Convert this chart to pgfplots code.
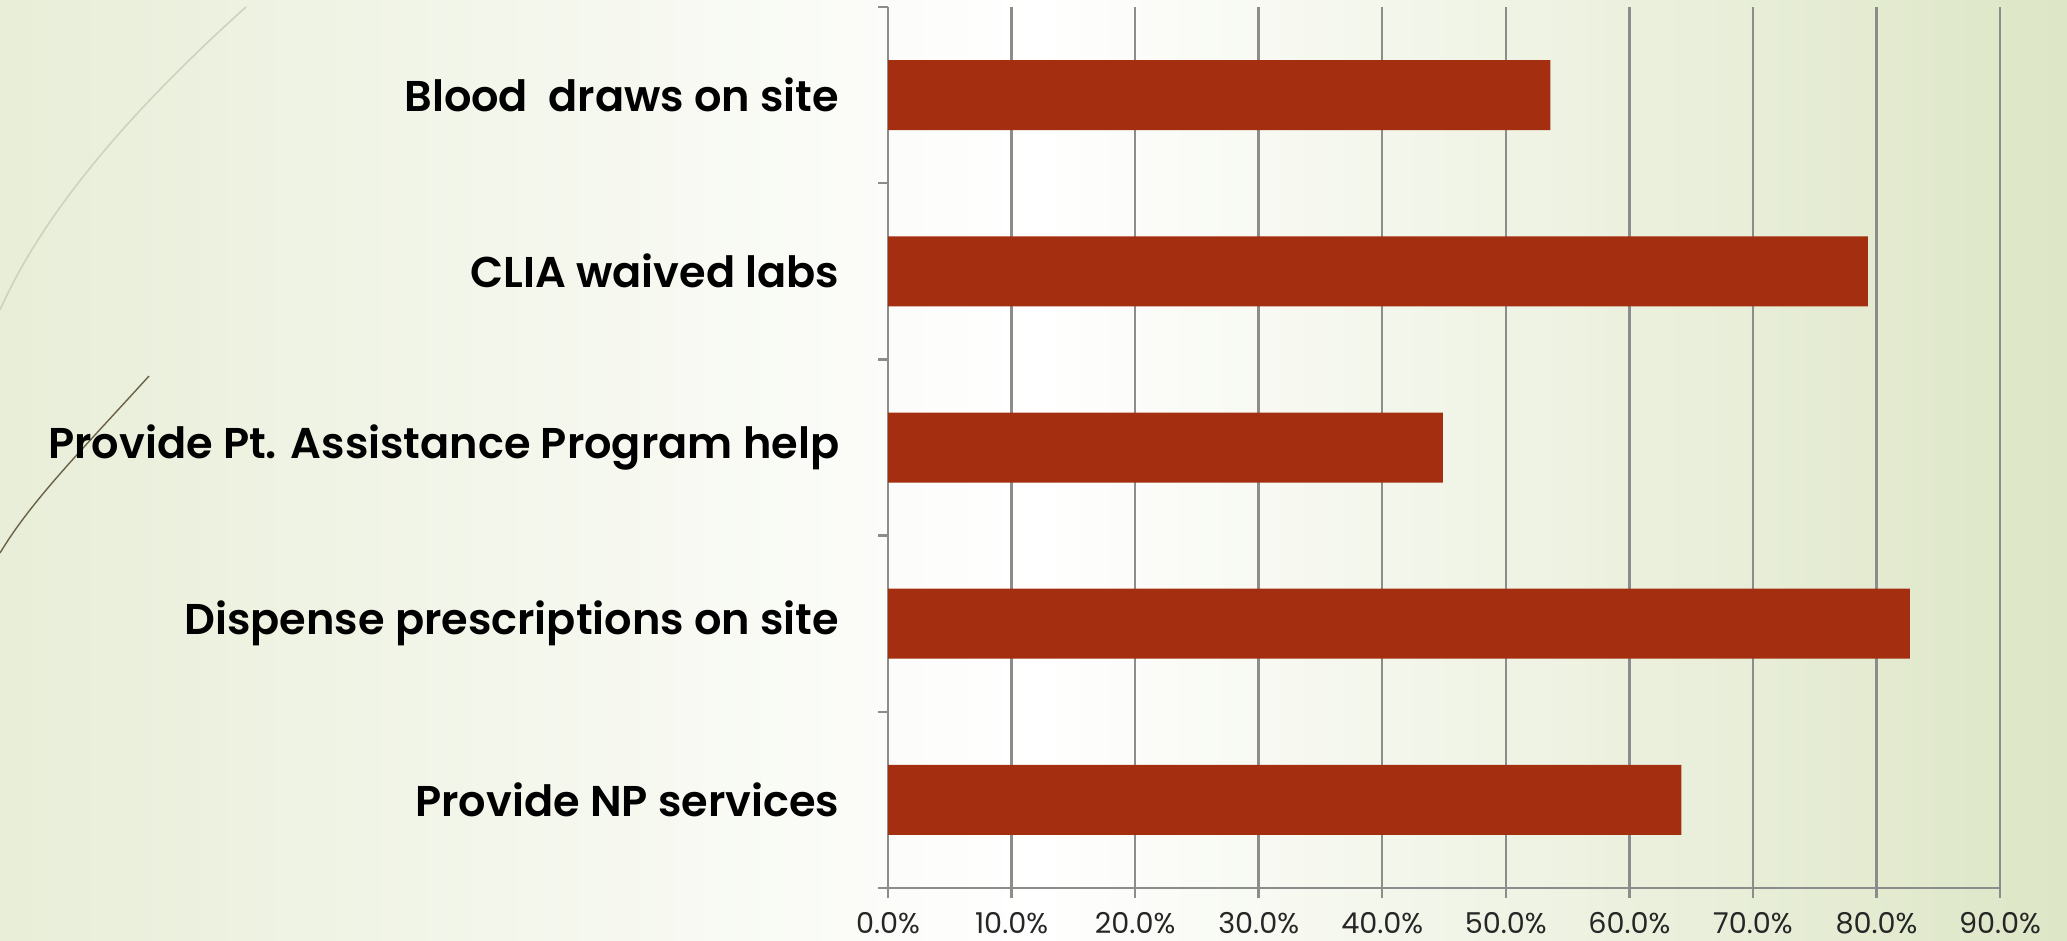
\documentclass[border=0pt]{standalone}
\usepackage{fontspec}
\setmainfont{Poppins}
\newfontfamily\catfont{Poppins SemiBold}
\newfontfamily\tickfont{Poppins}
\usepackage{pgfplots}
\pgfplotsset{compat=1.18}
\definecolor{barred}{HTML}{A42F10}
\definecolor{gridgray}{HTML}{8C8C8C}
\definecolor{bgleft}{HTML}{E8EED8}
\definecolor{bgright}{HTML}{DDE6C6}
\definecolor{arcA}{HTML}{CDD3BC}
\definecolor{arcB}{HTML}{6B6248}
\definecolor{ticktext}{HTML}{262626}
\begin{document}
\begin{tikzpicture}[x=1bp,y=1bp]
\useasboundingbox (0,0) rectangle (516.75,235);
\shade[left color=bgleft, right color=bgright, middle color=white] (0,0) rectangle (516.75,235);
\draw[color=arcA, line width=0.4bp] (61.5,233.25) .. controls (30,205) and (10,180) .. (0,157.5);
\draw[color=arcB, line width=0.35bp] (37.25,141) .. controls (20,122) and (8,110) .. (0,96.75);
\begin{axis}[
  at={(222bp,13bp)}, anchor=south west,
  scale only axis, width=278bp, height=220.25bp,
  xbar, bar width=17.5bp,
  xmin=0, xmax=90, ymin=-0.5, ymax=4.5,
  axis x line*=bottom, axis y line*=left,
  axis line style={gridgray, line width=0.6bp, -},
  xtick={0,10,...,90},
  xticklabels={0.0\%,10.0\%,20.0\%,30.0\%,40.0\%,50.0\%,60.0\%,70.0\%,80.0\%,90.0\%},
  ytick={0,1,2,3,4},
  yticklabels={Provide NP services, Dispense prescriptions on site, Provide Pt. Assistance Program help, CLIA waived labs, {Blood\ \ draws on site}},
  minor xtick={0,10,...,90},
  minor ytick={-0.5,0.5,1.5,2.5,3.5,4.5},
  major tick length=0pt, minor tick length=2.5bp,
  tick align=outside,
  tick style={gridgray, line width=0.6bp},
  xmajorgrids, major grid style={gridgray, line width=0.6bp},
  /pgf/number format/assume math mode=true,
  xticklabel style={font=\tickfont\fontsize{7.2}{8}\selectfont, text=ticktext, yshift=-2.6bp},
  yticklabel style={font=\catfont\fontsize{10.8}{13}\selectfont, anchor=east, inner sep=0pt, xshift=-12bp},
]
\addplot[fill=barred, draw=none] coordinates {(64.2,0) (82.7,1) (44.9,2) (79.3,3) (53.6,4)};
\end{axis}
\end{tikzpicture}
\end{document}
